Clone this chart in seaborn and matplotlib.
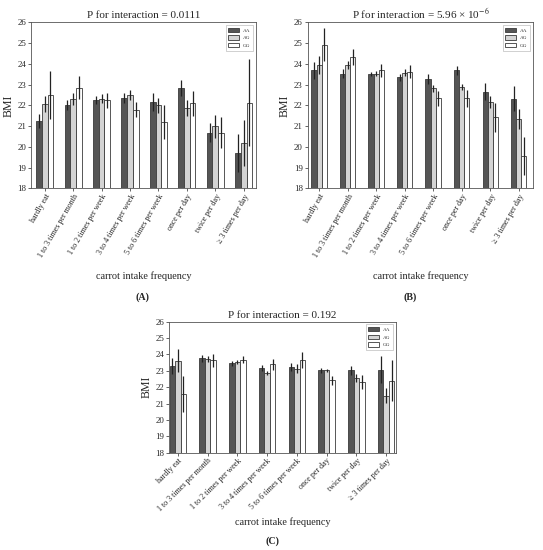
import pandas as pd
import seaborn as sns
import matplotlib.pyplot as plt

sns.set_theme(style="ticks")
plt.rcParams["font.family"] = ["Liberation Serif", "DejaVu Serif"]
plt.rcParams["mathtext.fontset"] = "stix"

## Data
categories = ["hardly eat", "1 to 3 times per month", "1 to 2 times per week",
              "3 to 4 times per week", "5 to 6 times per week", "once per day",
              "twice per day", "\u2265 3 times per day"]
genotypes = ["AA", "AG", "GG"]

# panel A
a_aa = [21.25, 22.02, 22.25, 22.35, 22.16, 22.85, 20.69, 19.71]
a_ag = [22.05, 22.30, 22.33, 22.50, 22.00, 21.86, 21.00, 20.20]
a_gg = [22.50, 22.86, 22.24, 21.80, 21.20, 22.10, 20.69, 22.13]
a_aa_err = [0.32, 0.25, 0.20, 0.25, 0.42, 0.38, 0.45, 0.90]
a_ag_err = [0.38, 0.28, 0.20, 0.25, 0.35, 0.38, 0.55, 1.10]
a_gg_err = [1.17, 0.56, 0.35, 0.35, 0.80, 0.60, 0.75, 2.10]

# panel B
b_aa = [23.68, 23.53, 23.50, 23.35, 23.26, 23.68, 22.66, 22.31]
b_ag = [23.95, 23.94, 23.53, 23.58, 22.82, 22.87, 22.16, 21.34]
b_gg = [24.92, 24.32, 23.68, 23.63, 22.34, 22.34, 21.42, 19.56]
b_aa_err = [0.40, 0.20, 0.10, 0.18, 0.25, 0.20, 0.40, 0.60]
b_ag_err = [0.45, 0.20, 0.12, 0.18, 0.18, 0.15, 0.28, 0.50]
b_gg_err = [0.80, 0.40, 0.30, 0.30, 0.35, 0.40, 0.70, 0.90]

# panel C
c_aa = [23.29, 23.76, 23.45, 23.16, 23.24, 23.04, 23.02, 23.08]
c_ag = [23.61, 23.71, 23.53, 22.84, 23.14, 23.04, 22.57, 21.49]
c_gg = [21.61, 23.65, 23.69, 23.39, 23.65, 22.41, 22.31, 22.39]
c_aa_err = [0.48, 0.20, 0.15, 0.20, 0.25, 0.15, 0.30, 0.85]
c_ag_err = [0.70, 0.20, 0.12, 0.12, 0.25, 0.10, 0.25, 0.45]
c_gg_err = [1.10, 0.40, 0.20, 0.35, 0.50, 0.30, 0.45, 1.25]

titles = ["P for interaction = 0.0111",
          "P for interaction = 5.96 \u00d7 10$^{-6}$",
          "P for interaction = 0.192"]
panel_tags = ["(A)", "(B)", "(C)"]

palette = {"AA": "#555555", "AG": "#d4d4d4", "GG": "#ffffff"}


def make_df(aa, ag, gg, aa_e, ag_e, gg_e):
    rows = []
    for g, vals, errs in zip(genotypes, [aa, ag, gg], [aa_e, ag_e, gg_e]):
        for c, v, e in zip(categories, vals, errs):
            rows.append({"freq": c, "Genotype": g, "BMI": v, "err": e})
    return pd.DataFrame(rows)


panels = [
    make_df(a_aa, a_ag, a_gg, a_aa_err, a_ag_err, a_gg_err),
    make_df(b_aa, b_ag, b_gg, b_aa_err, b_ag_err, b_gg_err),
    make_df(c_aa, c_ag, c_gg, c_aa_err, c_ag_err, c_gg_err),
]

fig = plt.figure(figsize=(5.43, 5.50), dpi=100)
positions = [[0.0571, 0.6573, 0.4144, 0.3022],
             [0.5667, 0.6573, 0.4149, 0.3022],
             [0.3112, 0.1769, 0.4180, 0.2382]]
xlims = [(-0.48, 7.43), (-0.40, 7.50), (-0.30, 7.33)]
widths = [0.60, 0.54, 0.56]
rotations = [60, 60, 45]
label_y = [-0.50, -0.50, -0.49]

for i, df in enumerate(panels):
    ax = fig.add_axes(positions[i])
    sns.barplot(data=df, x="freq", y="BMI", hue="Genotype", hue_order=genotypes,
                palette=palette, errorbar=None, width=widths[i],
                edgecolor="#3a3a3a", linewidth=0.6, ax=ax)
    # error bars at the bar centres seaborn placed
    for g, cont in zip(genotypes, ax.containers):
        sub = df[df["Genotype"] == g]
        xs = [b.get_x() + b.get_width() / 2 for b in cont]
        ys = [b.get_height() for b in cont]
        ax.errorbar(xs, ys, yerr=sub["err"].values, fmt="none",
                    ecolor="#222222", elinewidth=0.9, capsize=0, zorder=5)
    ax.set_ylim(18, 26)
    ax.set_xlim(*xlims[i])
    ax.set_yticks(range(18, 27))
    ax.tick_params(axis="y", labelsize=6.4, length=2, width=0.5, pad=1.5)
    ax.tick_params(axis="x", labelsize=5.8, length=2, width=0.5, pad=1)
    for lab in ax.get_xticklabels():
        lab.set_rotation(rotations[i])
        lab.set_ha("right")
        lab.set_rotation_mode("anchor")
    for s in ax.spines.values():
        s.set_linewidth(0.6)
        s.set_color("#555555")
    ax.set_ylabel("BMI", fontsize=8.5, labelpad=2)
    ax.set_xlabel("carrot intake frequency", fontsize=7.4)
    ax.xaxis.set_label_coords(0.5, label_y[i])
    ax.set_title(titles[i], fontsize=8, pad=3)
    leg = ax.legend(loc="upper right", fontsize=3.8, handlelength=2.0,
                    handleheight=0.9, frameon=True, borderpad=0.5,
                    labelspacing=0.5, fancybox=False)
    leg.get_frame().set_linewidth(0.4)
    leg.get_frame().set_edgecolor("#999999")
    leg.set_title(None)

fig.text(0.263, 0.46, panel_tags[0], fontsize=7.2, fontweight="bold", ha="center", va="center")
fig.text(0.755, 0.46, panel_tags[1], fontsize=7.2, fontweight="bold", ha="center", va="center")
fig.text(0.501, 0.0164, panel_tags[2], fontsize=7.2, fontweight="bold", ha="center", va="center")

fig.savefig("out.png", dpi=100)
